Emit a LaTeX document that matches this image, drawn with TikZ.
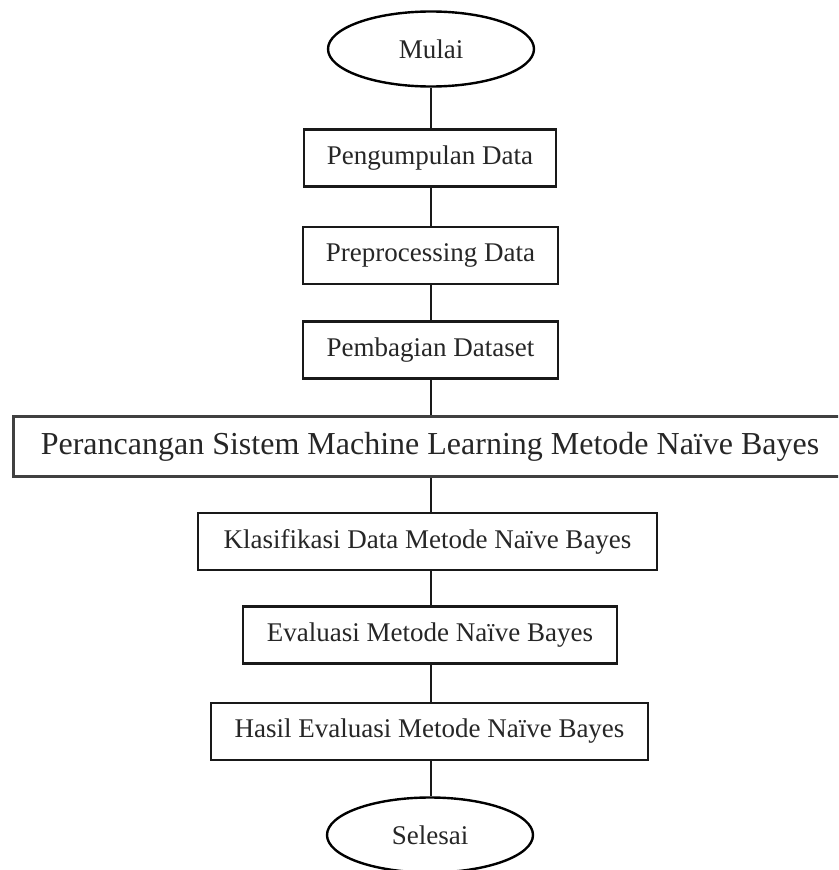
\documentclass[tikz,border=0pt]{standalone}
\usepackage{fontspec}
\setmainfont{Liberation Serif}
\usetikzlibrary{shapes.geometric}
\begin{document}
\begin{tikzpicture}[x=1pt,y=-1pt,
  txt/.style={text=black!85, font=\fontsize{27}{30}\selectfont},
  term/.style={ellipse, draw=black, line width=2.4pt, minimum width=206pt, minimum height=75pt, inner sep=0pt, txt},
  proc/.style={rectangle, draw=black!90, line width=2.6pt, minimum height=57pt, inner sep=0pt, txt},
  conn/.style={draw=black!90, line width=2.2pt}]
\useasboundingbox (0,0) rectangle (838,870);
\clip (0,0) rectangle (838,870);
\node[term] (mulai) at (431,49) {Mulai};
\node[proc, minimum width=252pt] (p1) at (430,158) {Pengumpulan Data};
\node[proc, minimum width=255pt] (p2) at (430.5,255.5) {Preprocessing Data};
\node[proc, minimum width=255pt] (p3) at (430.5,350) {Pembagian Dataset};
\node[proc, minimum width=834pt, minimum height=60pt, draw=black!75, line width=3pt, font=\fontsize{32}{36}\selectfont] (p4) at (430,446.5) {Perancangan Sistem Machine Learning Metode Naïve Bayes};
\node[proc, minimum width=459pt] (p5) at (427.5,541.5) {Klasifikasi Data Metode Naïve Bayes};
\node[proc, minimum width=374pt] (p6) at (430,635) {Evaluasi Metode Naïve Bayes};
\node[proc, minimum width=437pt] (p7) at (429.5,731.5) {Hasil Evaluasi Metode Naïve Bayes};
\node[term] (selesai) at (430,835) {Selesai};
\coordinate (cx) at (431,0);
\draw[conn] (mulai.south) -- (p1.north -| mulai.south);
\draw[conn] (p1.south -| cx) -- (p2.north -| cx);
\draw[conn] (p2.south -| cx) -- (p3.north -| cx);
\draw[conn] (p3.south -| cx) -- (p4.north -| cx);
\draw[conn] (p4.south -| cx) -- (p5.north -| cx);
\draw[conn] (p5.south -| cx) -- (p6.north -| cx);
\draw[conn] (p6.south -| cx) -- (p7.north -| cx);
\draw[conn] (p7.south -| cx) -- (selesai.north -| cx);
\end{tikzpicture}
\end{document}
